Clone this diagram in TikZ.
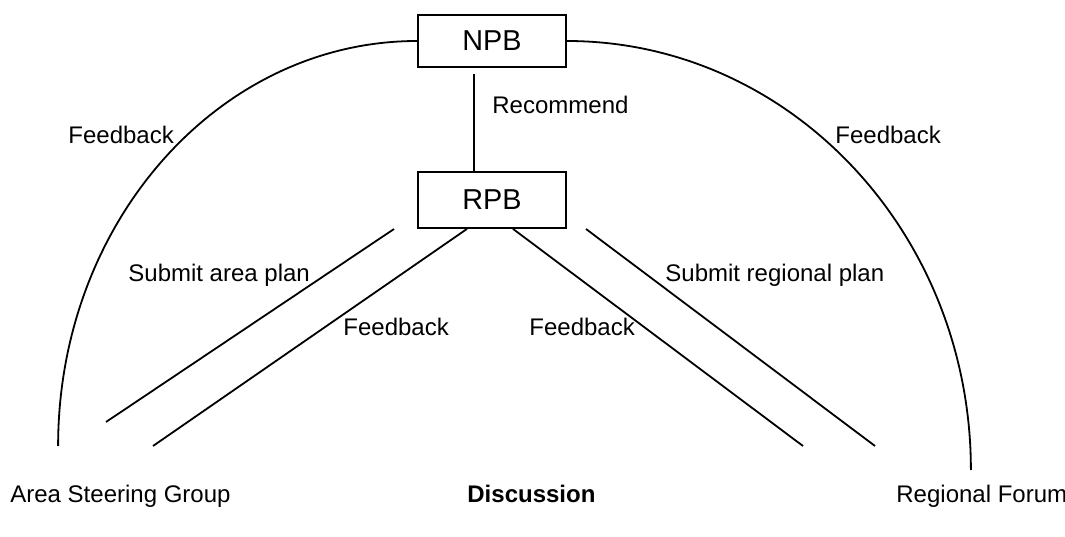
\documentclass[tikz,border=0pt]{standalone}
\usepackage{fontspec}
\setmainfont{Liberation Sans}
\tikzset{
	board/.style={draw, line width=0.9pt, minimum width=74pt, font=\fontsize{14.4}{17}\selectfont},
	lbl/.style={inner sep=0pt, anchor=base west, font=\fontsize{12}{14}\selectfont},
	link/.style={line width=0.9pt}
}
\begin{document}
\begin{tikzpicture}[x=0.5pt,y=0.5pt]
		\useasboundingbox (0,0) rectangle (1065,536);
		% Boards
		\node[board, minimum height=26pt] (npb) at (492,495) {NPB};
		\node[board, minimum height=28pt] (rpb) at (492,336) {RPB};
		
		% Free ends of the plan lines
		\coordinate (lo1) at (394,307);
		\coordinate (lo2) at (106,114);
		\coordinate (li2) at (153,90);
		\coordinate (ri2) at (803,90);
		\coordinate (ro1) at (586,307);
		\coordinate (ro2) at (875,90);
		
		% Feedback arcs from the top
		\draw[link] (npb.west) arc[start angle=90, end angle=180, x radius=359, y radius=405];
		\draw[link] (npb.east) arc[start angle=90, end angle=0, x radius=404, y radius=429];
		
		% Recommend line
		\draw[link] ([shift={(-18,-6)}]npb.south) -- ([xshift=-9pt]rpb.north);
		
		% Plan lines
		\draw[link] (lo1) -- (lo2);
		\draw[link] ([xshift=-12.5pt]rpb.south) -- (li2);
		\draw[link] ([xshift=10.5pt]rpb.south) -- (ri2);
		\draw[link] (ro1) -- (ro2);
		
		% Labels
		\node[lbl] (fbl) at (68,392) {Feedback};
		\node[lbl] (rec) at (492,422) {Recommend};
		\node[lbl] (fbr) at (835,392) {Feedback};
		\node[lbl] (suba) at (128,254) {Submit area plan};
		\node[lbl] (fbli) at (343,200) {Feedback};
		\node[lbl] (fbri) at (529,200) {Feedback};
		\node[lbl] (subr) at (665,254) {Submit regional plan};
		\node[lbl] (asg) at (10,34) {Area Steering Group};
		\node[lbl, font=\fontsize{12}{14}\selectfont\bfseries] (disc) at (467,34) {Discussion};
		\node[lbl] (rf) at (896,34) {Regional Forum};
\end{tikzpicture}
\end{document}
